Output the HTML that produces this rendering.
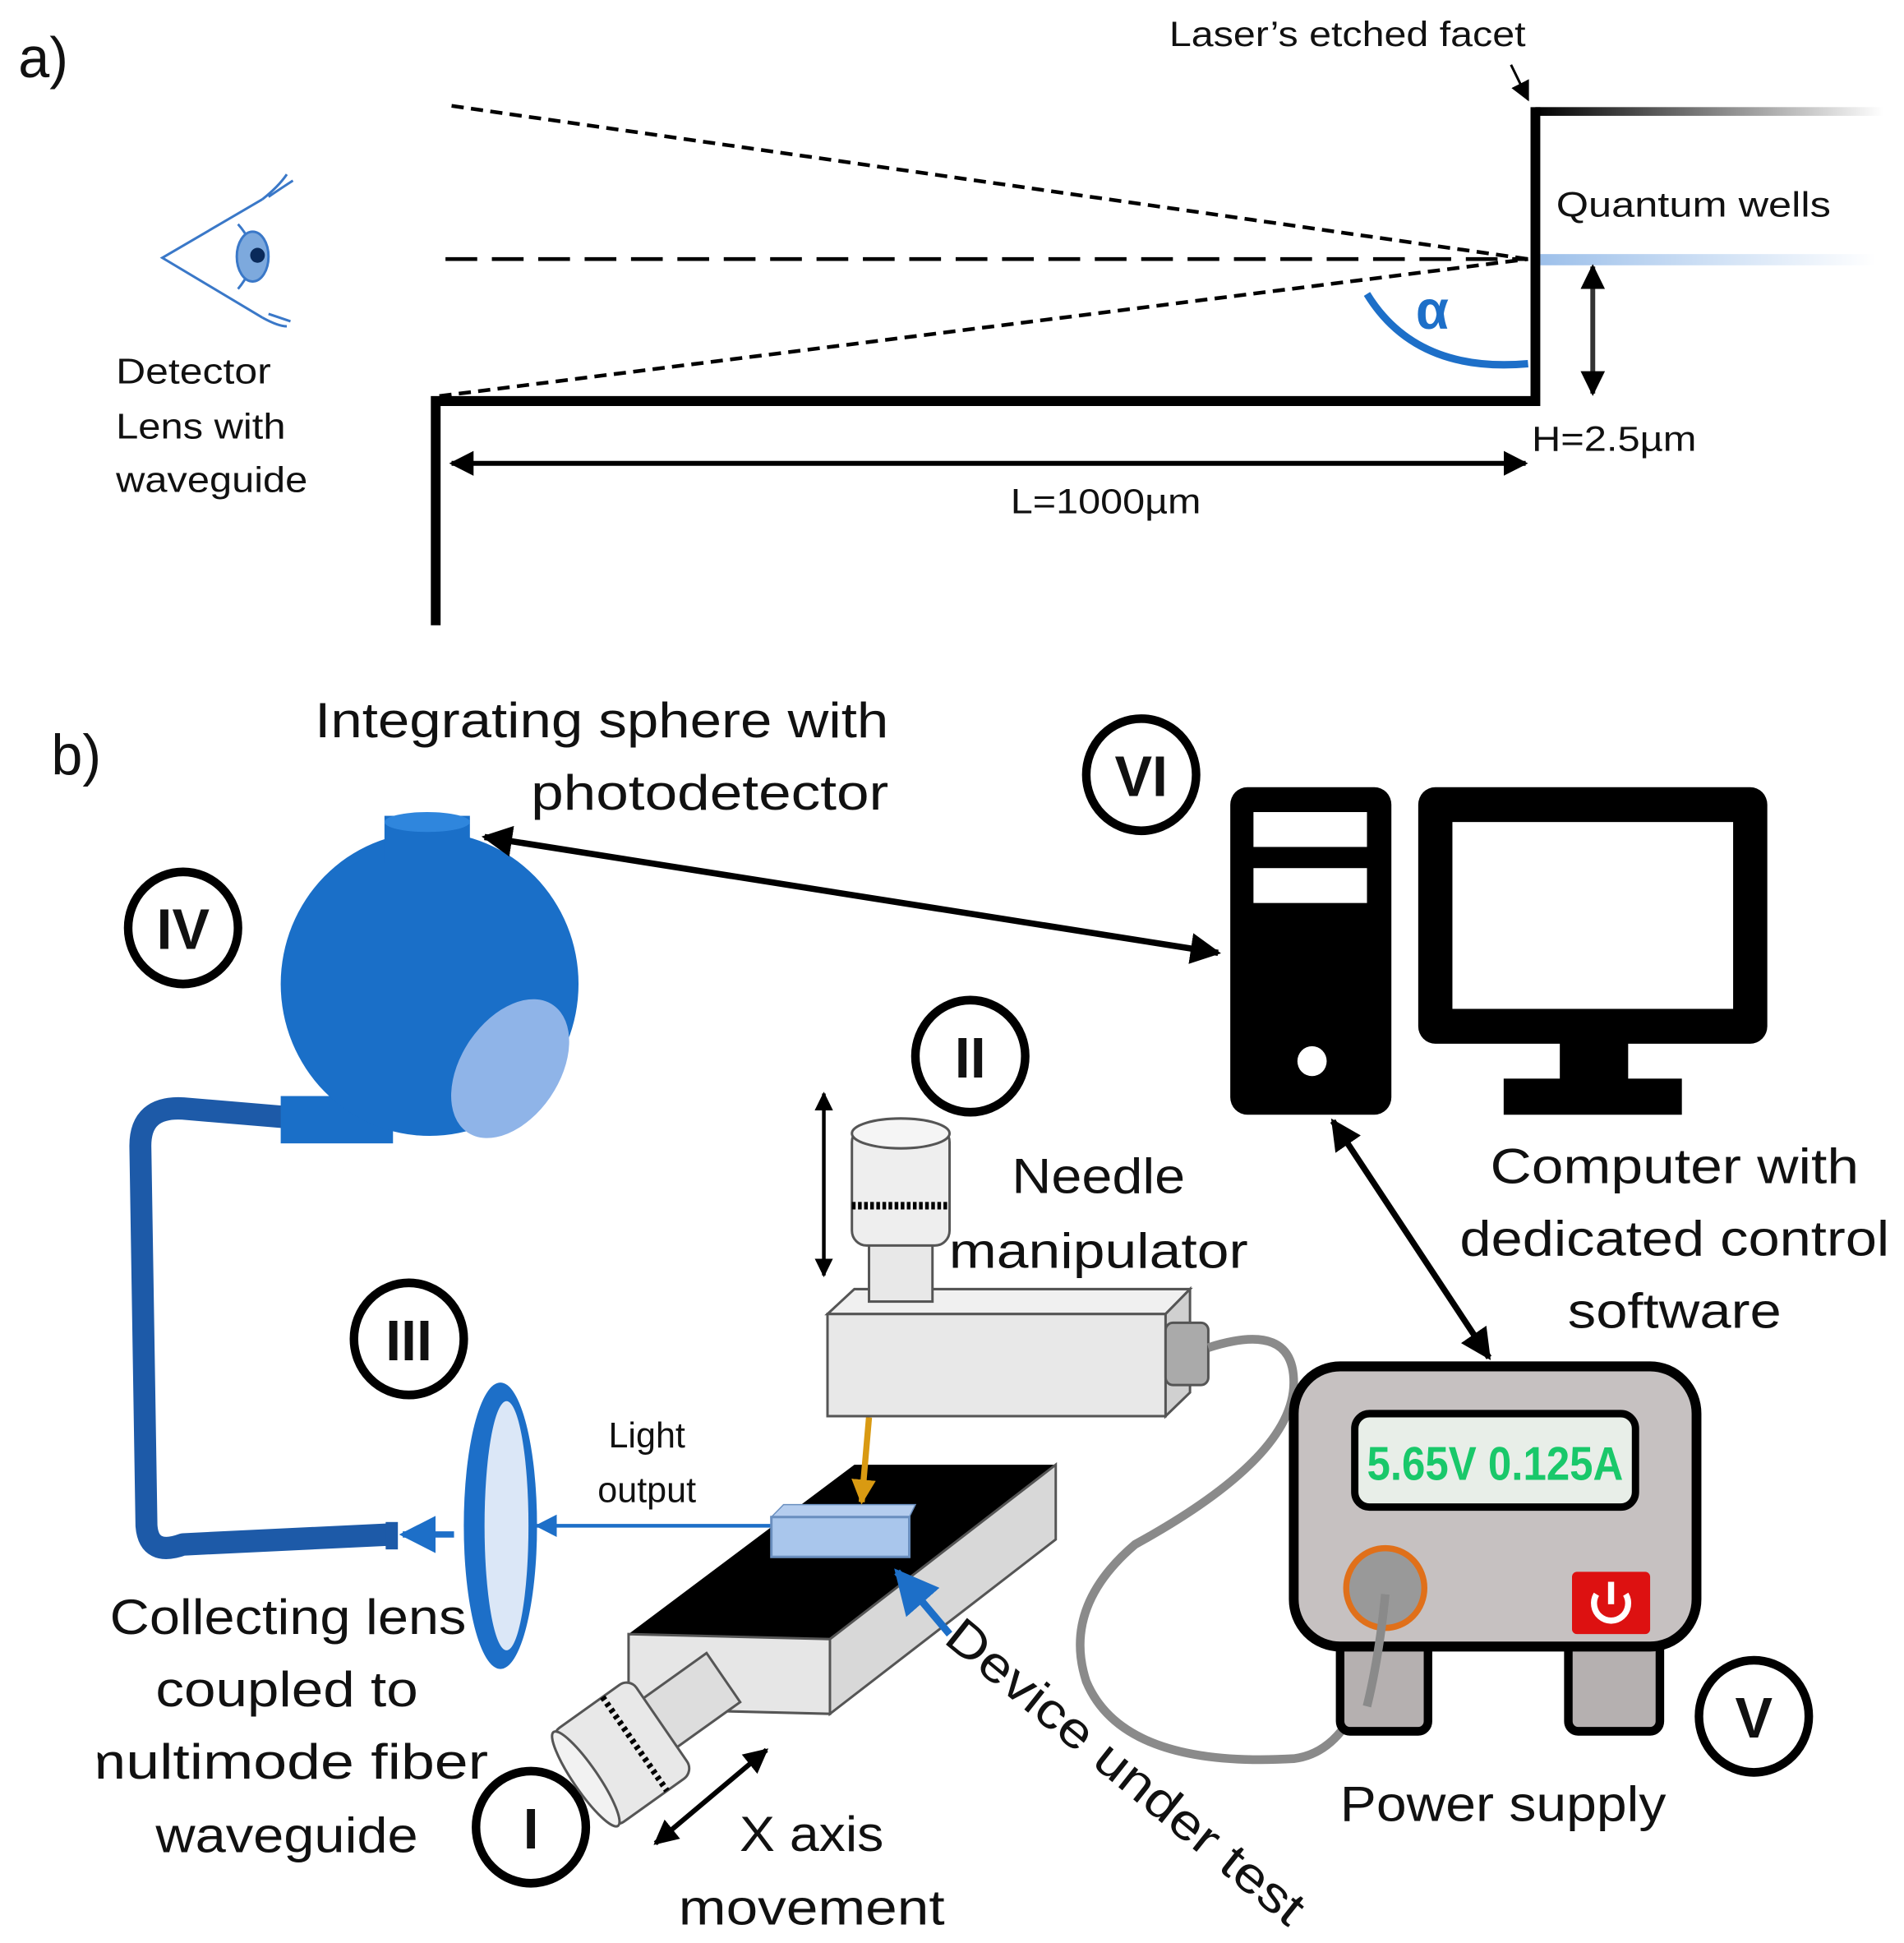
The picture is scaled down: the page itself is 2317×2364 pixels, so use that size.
<!DOCTYPE html>
<html><head><meta charset="utf-8"><style>
html,body{margin:0;padding:0;background:#fff;}
svg{display:block;}
text{font-family:"Liberation Sans",sans-serif;fill:#111;}
</style></head><body>
<svg width="2317" height="2364" viewBox="0 0 1560 1560" preserveAspectRatio="none" xmlns="http://www.w3.org/2000/svg">
<defs>
<linearGradient id="fadeK" x1="0" x2="1"><stop offset="0" stop-color="#000"/><stop offset="1" stop-color="#fff"/></linearGradient>
<linearGradient id="fadeB" x1="0" x2="1"><stop offset="0" stop-color="#9dc0ea"/><stop offset="1" stop-color="#fff"/></linearGradient>
<marker id="ah" viewBox="0 0 10 10" refX="9" refY="5" markerWidth="5" markerHeight="5" orient="auto-start-reverse"><path d="M0,0 L10,5 L0,10 z" fill="#000"/></marker>
<marker id="ahs" viewBox="0 0 10 10" refX="9" refY="5" markerWidth="8" markerHeight="8" orient="auto-start-reverse"><path d="M0,0 L10,5 L0,10 z" fill="#000"/></marker>
<marker id="ahb" viewBox="0 0 10 10" refX="9" refY="5" markerWidth="6" markerHeight="6" orient="auto"><path d="M0,0 L10,5 L0,10 z" fill="#1d6fc8"/></marker>
<marker id="aho" viewBox="0 0 10 10" refX="9" refY="5" markerWidth="4" markerHeight="4" orient="auto"><path d="M0,0 L10,5 L0,10 z" fill="#d99a12"/></marker>
</defs>
<!-- Part a -->
<text x="15" y="62" font-size="46" font-family="Liberation Serif">a)</text>
<text x="958" y="37" font-size="28" textLength="292" lengthAdjust="spacingAndGlyphs">Laser’s etched facet</text>
<line x1="1238" y1="52" x2="1252" y2="80" stroke="#000" stroke-width="2" marker-end="url(#ahs)"/>
<rect x="1258" y="86" width="285" height="7" fill="url(#fadeK)"/>
<rect x="1262" y="204" width="275" height="9" fill="url(#fadeB)"/>
<path d="M1258,86 V322 H357 V502" fill="none" stroke="#000" stroke-width="8"/>
<line x1="370" y1="85" x2="1252" y2="208" stroke="#000" stroke-width="3" stroke-dasharray="10,6"/>
<line x1="365" y1="208" x2="1252" y2="208" stroke="#000" stroke-width="3" stroke-dasharray="26,12"/>
<line x1="360" y1="318" x2="1252" y2="208" stroke="#000" stroke-width="3" stroke-dasharray="10,6"/>
<text x="1275" y="174" font-size="28" textLength="225" lengthAdjust="spacingAndGlyphs">Quantum wells</text>
<path d="M1120,236 Q1160,300 1252,292" fill="none" stroke="#1d6fc8" stroke-width="6"/>
<text x="1160" y="264" font-size="44" font-weight="bold" style="fill:#1d6fc8">α</text>
<line x1="1305" y1="214" x2="1305" y2="316" stroke="#333" stroke-width="4" marker-start="url(#ah)" marker-end="url(#ah)"/>
<text x="1255" y="362" font-size="28" textLength="135" lengthAdjust="spacingAndGlyphs">H=2.5µm</text>
<line x1="370" y1="372" x2="1250" y2="372" stroke="#000" stroke-width="4" marker-start="url(#ah)" marker-end="url(#ah)"/>
<text x="828" y="412" font-size="28" textLength="156" lengthAdjust="spacingAndGlyphs">L=1000µm</text>
<!-- eye -->
<path d="M215,160 L133,207 L215,255" fill="none" stroke="#3a78c8" stroke-width="2"/>
<path d="M195,180 Q218,205 195,232" fill="none" stroke="#3a78c8" stroke-width="2"/>
<ellipse cx="207" cy="206" rx="13" ry="20" fill="#7da9dd" stroke="#3a78c8" stroke-width="2"/>
<circle cx="211" cy="205" r="6" fill="#0a2a5a"/>
<path d="M215,160 Q228,150 235,140 M220,158 Q232,150 240,145 M215,255 Q228,262 235,262 M220,252 Q232,256 238,258" fill="none" stroke="#3a78c8" stroke-width="2"/>
<text x="95" y="308" font-size="29" textLength="127" lengthAdjust="spacingAndGlyphs">Detector</text>
<text x="95" y="352" font-size="29" textLength="139" lengthAdjust="spacingAndGlyphs">Lens with</text>
<text x="95" y="395" font-size="29" textLength="157" lengthAdjust="spacingAndGlyphs">waveguide</text>
<!-- Part b -->
<text x="42" y="622" font-size="46" font-family="Liberation Serif">b)</text>
<text x="258" y="592" font-size="40" textLength="470" lengthAdjust="spacingAndGlyphs">Integrating sphere with</text>
<text x="435" y="650" font-size="40" textLength="293" lengthAdjust="spacingAndGlyphs">photodetector</text>
<!-- numbered circles -->
<g fill="#fff" stroke="#000" stroke-width="7">
<circle cx="150" cy="745" r="45"/><circle cx="935" cy="622" r="45"/><circle cx="795" cy="848" r="45"/>
<circle cx="335" cy="1075" r="45"/><circle cx="435" cy="1467" r="45"/><circle cx="1437" cy="1378" r="45"/>
</g>
<g font-size="46" font-weight="bold" text-anchor="middle">
<text x="150" y="762">IV</text><text x="935" y="639">VI</text><text x="795" y="865">II</text>
<text x="335" y="1092">III</text><text x="435" y="1484">I</text><text x="1437" y="1395">V</text>
</g>
<!-- fiber -->
<path d="M235,897 L150,890 Q115,888 115,920 L120,1225 Q122,1250 150,1240 L320,1232" fill="none" stroke="#1d5aa8" stroke-width="18" stroke-linejoin="round"/>
<!-- sphere -->
<rect x="230" y="880" width="92" height="38" fill="#1a6fc8"/>
<circle cx="352" cy="790" r="122" fill="#1a6fc8"/>
<ellipse cx="418" cy="858" rx="40" ry="62" transform="rotate(35 418 858)" fill="#8fb4e8"/>
<rect x="315" y="655" width="70" height="38" fill="#1a6fc8"/>
<ellipse cx="350" cy="660" rx="35" ry="8" fill="#2f86dd"/>
<!-- lens -->
<rect x="316" y="1222" width="10" height="22" fill="#1d5aa8"/>
<path d="M372,1232 L330,1232" stroke="#1d6fc8" stroke-width="5" marker-end="url(#ahb)"/>
<ellipse cx="410" cy="1225" rx="30" ry="115" fill="#1d6fc8"/>
<ellipse cx="415" cy="1225" rx="18" ry="100" fill="#dbe7f7"/>
<line x1="632" y1="1225" x2="440" y2="1225" stroke="#1d6fc8" stroke-width="3" marker-end="url(#ahb)"/>
<text x="530" y="1162" font-size="29" text-anchor="middle">Light</text>
<text x="530" y="1206" font-size="29" text-anchor="middle">output</text>
<!-- stage -->
<polygon points="515,1312 700,1176 865,1176 680,1316" fill="#000"/>
<polygon points="515,1312 680,1316 680,1376 515,1372" fill="#e6e6e6" stroke="#555" stroke-width="2"/>
<polygon points="680,1316 865,1176 865,1236 680,1376" fill="#d8d8d8" stroke="#555" stroke-width="2"/>
<g transform="rotate(-35 540 1385)">
<rect x="535" y="1360" width="70" height="48" fill="#ddd" stroke="#555" stroke-width="2"/>
<rect x="462" y="1340" width="80" height="92" rx="10" fill="#e8e8e8" stroke="#555" stroke-width="2"/>
<ellipse cx="466" cy="1386" rx="10" ry="46" fill="#f2f2f2" stroke="#555" stroke-width="2"/>
<line x1="515" y1="1340" x2="515" y2="1432" stroke="#000" stroke-width="5" stroke-dasharray="3,3"/>
</g>
<!-- chip -->
<polygon points="632,1218 642,1208 750,1208 745,1218" fill="#b5cdee" stroke="#6a8fbf"/>
<rect x="632" y="1218" width="113" height="32" fill="#a9c6ec" stroke="#6a8fbf" stroke-width="2"/>
<line x1="712" y1="1138" x2="706" y2="1206" stroke="#d99a12" stroke-width="5" marker-end="url(#aho)"/>
<line x1="778" y1="1312" x2="735" y2="1262" stroke="#1d6fc8" stroke-width="6" marker-end="url(#ahb)"/>
<!-- manipulator -->
<polygon points="678,1055 700,1035 975,1035 955,1055" fill="#f0f0f0" stroke="#555" stroke-width="2"/>
<rect x="678" y="1055" width="277" height="82" fill="#e8e8e8" stroke="#555" stroke-width="2"/>
<polygon points="955,1055 975,1035 975,1118 955,1137" fill="#d0d0d0" stroke="#555" stroke-width="2"/>
<rect x="712" y="990" width="52" height="55" fill="#e8e8e8" stroke="#555" stroke-width="2"/>
<rect x="698" y="905" width="80" height="95" rx="12" fill="#eee" stroke="#555" stroke-width="2"/>
<ellipse cx="738" cy="910" rx="40" ry="12" fill="#f5f5f5" stroke="#555" stroke-width="2"/>
<line x1="698" y1="968" x2="778" y2="968" stroke="#000" stroke-width="6" stroke-dasharray="3,2"/>
<rect x="955" y="1062" width="35" height="50" rx="6" fill="#aaa" stroke="#555" stroke-width="2"/>
<line x1="675" y1="878" x2="675" y2="1024" stroke="#000" stroke-width="3" marker-start="url(#ah)" marker-end="url(#ah)"/>
<text x="900" y="958" font-size="40" text-anchor="middle" textLength="142" lengthAdjust="spacingAndGlyphs">Needle</text>
<text x="900" y="1018" font-size="40" text-anchor="middle" textLength="245" lengthAdjust="spacingAndGlyphs">manipulator</text>
<!-- cable -->
<path d="M990,1082 Q1060,1060 1060,1110 Q1060,1170 930,1240 Q870,1290 890,1350 Q920,1420 1060,1412 Q1120,1405 1135,1280" fill="none" stroke="#8a8a8a" stroke-width="7"/>
<!-- power supply -->
<rect x="1098" y="1310" width="72" height="80" rx="8" fill="#b5b0b0" stroke="#000" stroke-width="7"/>
<rect x="1285" y="1310" width="75" height="80" rx="8" fill="#b5b0b0" stroke="#000" stroke-width="7"/>
<rect x="1060" y="1097" width="330" height="225" rx="38" fill="#c6c1c1" stroke="#000" stroke-width="8"/>
<rect x="1110" y="1135" width="230" height="75" rx="12" fill="#e8eee8" stroke="#000" stroke-width="6"/>
<text x="1225" y="1188" font-size="38" font-weight="bold" text-anchor="middle" style="fill:#19c86a" textLength="210" lengthAdjust="spacingAndGlyphs">5.65V  0.125A</text>
<circle cx="1135" cy="1275" r="32" fill="#999" stroke="#e0701a" stroke-width="5"/>
<path d="M1135,1280 Q1130,1330 1120,1370" fill="none" stroke="#8a8a8a" stroke-width="7"/>
<rect x="1288" y="1262" width="64" height="50" rx="4" fill="#dd1111"/>
<path d="M1308,1280 A14,14 0 1 0 1332,1280" fill="none" stroke="#fff" stroke-width="5"/>
<line x1="1320" y1="1270" x2="1320" y2="1288" stroke="#fff" stroke-width="5"/>
<text x="1098" y="1462" font-size="40" textLength="267" lengthAdjust="spacingAndGlyphs">Power supply</text>
<!-- computer -->
<rect x="1008" y="632" width="132" height="263" rx="14" fill="#000"/>
<rect x="1027" y="652" width="93" height="28" fill="#fff"/>
<rect x="1027" y="697" width="93" height="28" fill="#fff"/>
<circle cx="1075" cy="852" r="12" fill="#fff"/>
<rect x="1162" y="632" width="286" height="206" rx="14" fill="#000"/>
<rect x="1190" y="660" width="230" height="150" fill="#fff"/>
<rect x="1278" y="836" width="56" height="36" fill="#000"/>
<rect x="1232" y="866" width="146" height="29" fill="#000"/>
<text x="1372" y="950" font-size="40" text-anchor="middle" textLength="302" lengthAdjust="spacingAndGlyphs">Computer with</text>
<text x="1372" y="1008" font-size="40" text-anchor="middle" textLength="352" lengthAdjust="spacingAndGlyphs">dedicated control</text>
<text x="1372" y="1066" font-size="40" text-anchor="middle" textLength="175" lengthAdjust="spacingAndGlyphs">software</text>
<line x1="397" y1="672" x2="998" y2="765" stroke="#000" stroke-width="5" marker-start="url(#ah)" marker-end="url(#ah)"/>
<line x1="1092" y1="900" x2="1220" y2="1090" stroke="#000" stroke-width="5" marker-start="url(#ah)" marker-end="url(#ah)"/>
<!-- labels -->
<text x="90" y="1312" font-size="40" textLength="292" lengthAdjust="spacingAndGlyphs">Collecting lens</text>
<text x="235" y="1370" font-size="40" text-anchor="middle" textLength="215" lengthAdjust="spacingAndGlyphs">coupled to</text>
<text x="62" y="1428" font-size="40" textLength="338" lengthAdjust="spacingAndGlyphs">multimode fiber</text>
<rect x="0" y="1390" width="80" height="50" fill="#fff"/>
<text x="235" y="1487" font-size="40" text-anchor="middle" textLength="215" lengthAdjust="spacingAndGlyphs">waveguide</text>
<line x1="537" y1="1480" x2="628" y2="1405" stroke="#000" stroke-width="4" marker-start="url(#ah)" marker-end="url(#ah)"/>
<text x="665" y="1486" font-size="40" text-anchor="middle" textLength="118" lengthAdjust="spacingAndGlyphs">X axis</text>
<text x="665" y="1545" font-size="40" text-anchor="middle" textLength="218" lengthAdjust="spacingAndGlyphs">movement</text>
<text x="0" y="0" font-size="40" transform="translate(772,1318) rotate(39)" textLength="365" lengthAdjust="spacingAndGlyphs">Device under test</text>
</svg>
</body></html>
